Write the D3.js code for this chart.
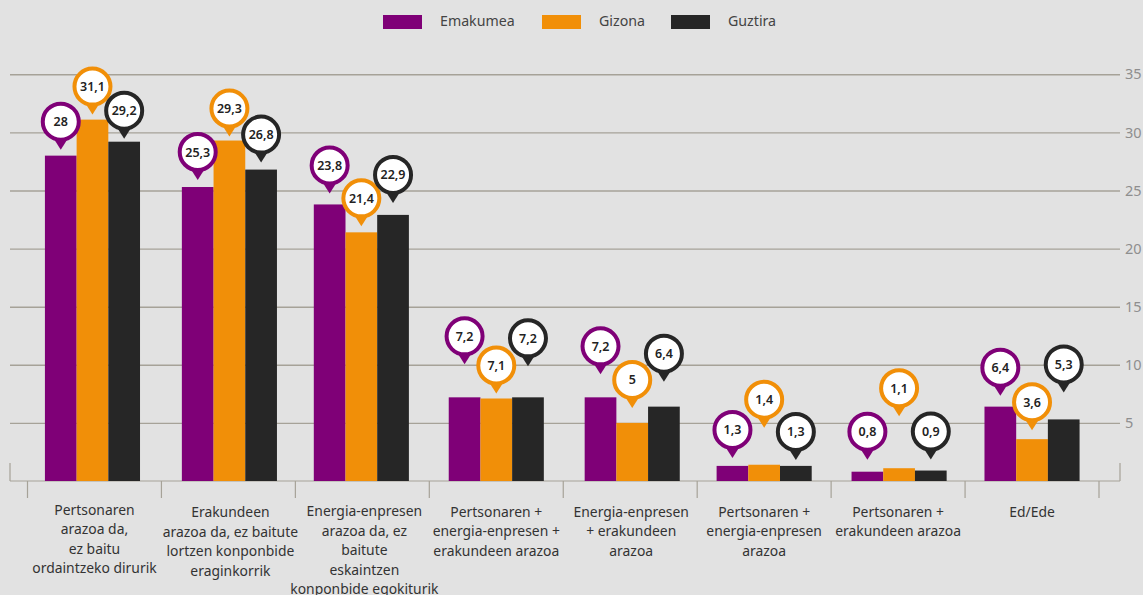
<!DOCTYPE html>
<html><head><meta charset="utf-8">
<script src="https://cdn.jsdelivr.net/npm/d3@7/dist/d3.min.js"></script>
<style>
html,body{margin:0;padding:0;background:#e2e2e2;overflow:hidden}
svg{display:block}
text{font-family:"Noto Sans",sans-serif}
</style></head><body><svg id="c" width="1143" height="595"></svg>
<script>
const categories=[
 ["Pertsonaren","arazoa da,","ez baitu","ordaintzeko dirurik"],
 ["Erakundeen","arazoa da, ez baitute","lortzen konponbide","eraginkorrik"],
 ["Energia-enpresen","arazoa da, ez","baitute","eskaintzen","konponbide egokiturik"],
 ["Pertsonaren +","energia-enpresen +","erakundeen arazoa"],
 ["Energia-enpresen","+ erakundeen","arazoa"],
 ["Pertsonaren +","energia-enpresen","arazoa"],
 ["Pertsonaren +","erakundeen arazoa"],
 ["Ed/Ede"]];
const seriesNames=["Emakumea","Gizona","Guztira"];
const seriesColors=["#7f0077","#f18f08","#262626"];
const emakumea=[28,25.3,23.8,7.2,7.2,1.3,0.8,6.4];
const gizona=[31.1,29.3,21.4,7.1,5,1.4,1.1,3.6];
const guztira=[29.2,26.8,22.9,7.2,6.4,1.3,0.9,5.3];
const yTicks=[5,10,15,20,25,30,35];
// how far each value pin floats above its bar top, in px
const pinLiftE=[34,35,39,61,51,36,40,39];
const pinLiftG=[33,32,34,33,43,65,80,37];
const pinLiftT=[31,35,40,59,53,34,39,55];
// small hand-placement nudges of each bar group and label block
const groupNudge=[-2,1,-1,0,2,0,1,0];
const labelNudge=[0,2,2,0,1,0,0,0];
const labelTop=[514.5,517,516,516.5,516.5,516.5,516.5,516.5];

const values=[emakumea,gizona,guztira], lifts=[pinLiftE,pinLiftG,pinLiftT];
const fmt=v=>String(v).replace(".",",");
const svg=d3.select("#c");
const y=d3.scaleLinear().domain([0,35]).range([481,74.3]);
const idx=categories.map((_,i)=>i);
const x0=d3.scaleBand().domain(idx).range([27.5,1099]).paddingInner(0.29).paddingOuter(0.145);
const x1=d3.scaleBand().domain([0,1,2]).range([0,x0.bandwidth()]);
const gx=i=>x0(i)+groupNudge[i];
const gridCol="#a6a298", txt="#333";

// legend
const legX=[383,542,671], legT=[440,599,728];
seriesNames.forEach((n,i)=>{
 svg.append("rect").attr("x",legX[i]).attr("y",15).attr("width",39).attr("height",14).attr("fill",seriesColors[i]);
 svg.append("text").attr("x",legT[i]).attr("y",26).attr("font-size",14.2).attr("fill","#444").text(n);
});

// grid + y axis
const yAxis=d3.axisRight(y).tickValues(yTicks).tickSize(1110).tickPadding(5);
const gy=svg.append("g").attr("transform","translate(10,0)").call(yAxis);
gy.select(".domain").remove();
gy.selectAll("line").attr("stroke",gridCol).attr("stroke-width",1.4);
gy.selectAll("text").attr("font-size",14.5).attr("fill","#8e8e8e");

// baseline & ticks
const ax=svg.append("g").attr("stroke",gridCol).attr("stroke-width",1.2).attr("fill","none");
ax.append("line").attr("x1",10).attr("x2",1120).attr("y1",y(0)).attr("y2",y(0));
[10,1120].forEach(px=>ax.append("line").attr("x1",px).attr("x2",px).attr("y1",463).attr("y2",y(0)));
d3.range(9).forEach(i=>{
 const px=27.5+i*x0.step();
 ax.append("line").attr("x1",px).attr("x2",px).attr("y1",y(0)).attr("y2",498);
});

// bars
values.forEach((vals,s)=>{
 svg.append("g").selectAll("rect").data(vals).join("rect")
  .attr("x",(d,i)=>gx(i)+x1(s)).attr("width",x1.bandwidth())
  .attr("y",d=>y(d)).attr("height",d=>y(0)-y(d)).attr("fill",seriesColors[s]);
});

// category labels
categories.forEach((lines,i)=>{
 const t=svg.append("text").attr("text-anchor","middle").attr("font-size",13.9).attr("fill",txt);
 lines.forEach((l,k)=>t.append("tspan").attr("x",x0(i)+x0.bandwidth()/2+labelNudge[i]).attr("y",labelTop[i]+k*19.6).text(l));
});

// pins
values.forEach((vals,s)=>{
 vals.forEach((v,i)=>{
  const cx=gx(i)+x1(s)+x1.bandwidth()/2, cy=y(v)-lifts[s][i];
  const g=svg.append("g").attr("transform",`translate(${cx},${cy})`);
  g.append("path").attr("d","M-7,17L0,28L7,17Z").attr("fill",seriesColors[s]);
  g.append("circle").attr("r",18).attr("fill","#fff").attr("stroke",seriesColors[s]).attr("stroke-width",4);
  g.append("text").attr("text-anchor","middle").attr("y",4.5).attr("font-size",12.5).attr("font-weight",600).attr("fill","#222").text(fmt(v));
 });
});
</script></body></html>
